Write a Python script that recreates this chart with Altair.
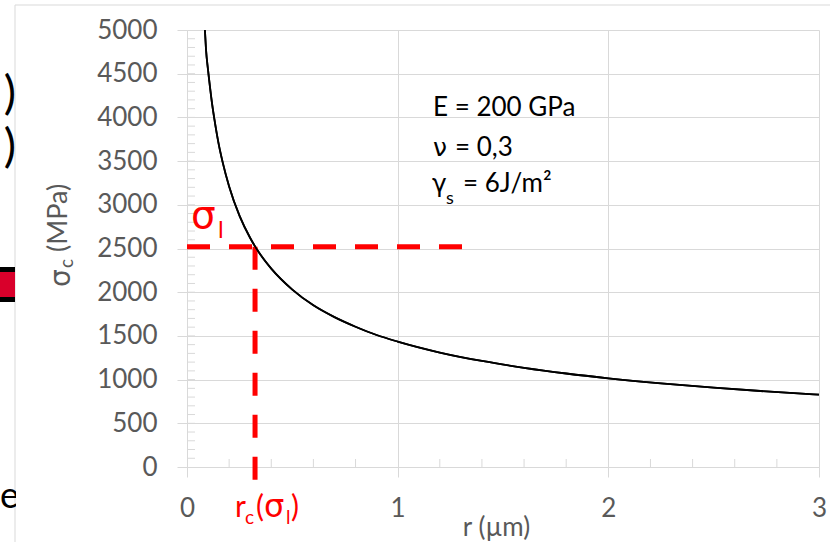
import altair as alt
import pandas as pd

# ---- data ----
r_vals = [0.085, 0.09, 0.1, 0.11, 0.12, 0.13, 0.15, 0.17, 0.2, 0.25, 0.3, 0.35, 0.4, 0.5, 0.6,
          0.7, 0.8, 0.9, 1.0, 1.2, 1.4, 1.6, 1.8, 2.0, 2.25, 2.5, 2.75, 3.0]
sigma_vals = [5000, 4785, 4540, 4330, 4140, 3980, 3700, 3480, 3210, 2870, 2620, 2425, 2270, 2030, 1850,
              1715, 1605, 1510, 1435, 1310, 1213, 1135, 1070, 1015, 957, 908, 865, 828]
x_ticks = [0, 1, 2, 3]
y_ticks = [0, 500, 1000, 1500, 2000, 2500, 3000, 3500, 4000, 4500, 5000]
x_minor = [0.2, 0.4, 0.6, 0.8, 1.2, 1.4, 1.6, 1.8, 2.2, 2.4, 2.6, 2.8]
y_minor = list(range(100, 5000, 100))
sigma_l = 2520      # MPa
r_c = 0.323         # µm
h_end = 1.32        # end of the horizontal dashed line

W, H = 632, 437
GRAY = "#d9d9d9"
TXT = "#595959"
RED = "#ff0000"
FONT = "Lato"
GREEK = "DejaVu Sans"

curve = pd.DataFrame({"r": r_vals, "s": sigma_vals})
one = pd.DataFrame({"a": [1]})

xscale = alt.Scale(domain=[0, 3], nice=False, zero=False)
yscale = alt.Scale(domain=[0, 5000], nice=False)
xaxis = alt.Axis(values=x_ticks, title="r (µm)", grid=True, gridColor=GRAY, gridWidth=1,
                 domainColor=GRAY, tickColor=GRAY, tickSize=10, labelFont=FONT, labelFontSize=26,
                 labelColor=TXT, labelPadding=18, labelFlush=False, format="d",
                 titleFont=FONT, titleFontSize=26, titleColor=TXT, titleFontWeight="normal",
                 titleX=309, titleY=68, titleBaseline="alphabetic", titleAlign="center")
yaxis = alt.Axis(values=y_ticks, title=None, grid=True, gridColor=GRAY, gridWidth=1,
                 domainColor=GRAY, tickColor=GRAY, tickSize=10, labelFont=FONT, labelFontSize=26,
                 labelColor=TXT, labelPadding=20, format="d")


def X(f="r"):
    return alt.X(f, type="quantitative", scale=xscale, axis=xaxis)


def Y(f="s"):
    return alt.Y(f, type="quantitative", scale=yscale, axis=yaxis)


def txt(s, x, y, size, color="black", font=FONT, align="left", baseline="alphabetic", angle=0):
    return alt.Chart(one).mark_text(text=s, fontSize=size, color=color, font=font, align=align,
                                    baseline=baseline, angle=angle).encode(
        x=alt.value(x), y=alt.value(y))


# main curve
line = alt.Chart(curve).mark_line(color="black", strokeWidth=1.8, interpolate="monotone").encode(
    x=X(), y=Y())

# minor ticks (inside)
xm = alt.Chart(pd.DataFrame({"r": x_minor})).mark_rule(color=GRAY, strokeWidth=1).encode(
    x=X(), y=alt.value(H), y2=alt.value(H - 8))
ym = alt.Chart(pd.DataFrame({"s": y_minor})).mark_rule(color=GRAY, strokeWidth=1).encode(
    y=Y(), x=alt.value(0), x2=alt.value(8))

# red dashed lines
hd = alt.Chart(pd.DataFrame({"r": [0.0], "r2": [h_end], "s": [sigma_l]})).mark_rule(
    color=RED, strokeWidth=5, strokeDash=[23, 19]).encode(x=X(), x2="r2:Q", y=Y())
vd = alt.Chart(pd.DataFrame({"r": [r_c], "s": [sigma_l]})).mark_rule(
    color=RED, strokeWidth=5, strokeDash=[23, 19]).encode(x=X(), y=Y(), y2=alt.value(H + 13))

# frame and slide fragments on the left
frame_v = alt.Chart(one).mark_rule(color=GRAY, strokeWidth=1).encode(
    x=alt.value(-172), y=alt.value(-25), y2=alt.value(H + 80))
frame_h = alt.Chart(one).mark_rule(color=GRAY, strokeWidth=1).encode(
    x=alt.value(-172), x2=alt.value(W + 20), y=alt.value(-25))
blk = alt.Chart(one).mark_rect(color="black").encode(
    x=alt.value(-190), x2=alt.value(-172), y=alt.value(237), y2=alt.value(272))
redbox = alt.Chart(one).mark_rect(color="#d9002b").encode(
    x=alt.value(-190), x2=alt.value(-172), y=alt.value(242), y2=alt.value(267))
e_frag = txt("e", -187, 478, 36)
e_cover = alt.Chart(one).mark_rect(color="white").encode(
    x=alt.value(-171), x2=alt.value(-140), y=alt.value(440), y2=alt.value(492))
p1 = txt(")", -171, 79, 46, align="right")
p2 = txt(")", -171, 132, 46, align="right")

# parameter box
texts = [
    txt("E = 200 GPa", 246, 86, 26),
    txt("ν", 246, 126, 25, font=GREEK),
    txt("= 0,3", 268, 126, 26),
    txt("γ", 245, 162, 25, font=GREEK),
    txt("s", 259, 174, 18),
    txt("= 6J/m²", 276, 162, 26),
    # sigma_l label
    txt("σ", 4, 198, 39, color=RED, font=GREEK),
    txt("l", 31, 208, 24, color=RED),
    # r_c(sigma_l) label
    txt("r", 48, 487, 30, color=RED),
    txt("c", 58, 494, 19, color=RED),
    txt("(", 69, 487, 30, color=RED),
    txt("σ", 77, 487, 32, color=RED, font=GREEK),
    txt("l", 99, 494, 19, color=RED),
    txt(")", 104, 487, 30, color=RED),
    # y-axis title sigma_c (MPa), rotated
    txt("σ", -117, 257, 28, color=TXT, font=GREEK, angle=270),
    txt("c", -114, 238, 19, color=TXT, angle=270),
    txt("(MPa)", -120, 222, 27, color=TXT, angle=270),
]

chart = alt.layer(line, xm, ym, hd, vd, line, frame_v, frame_h, blk, redbox, e_frag, e_cover,
                  p1, p2, *texts).properties(
    width=W, height=H,
    autosize=alt.AutoSizeParams(type="none"),
    padding={"left": 187, "top": 30, "right": 11, "bottom": 75},
    background="white",
).configure_view(stroke=None)

chart.save("out.html", embed_options={"renderer": "svg", "actions": False})
